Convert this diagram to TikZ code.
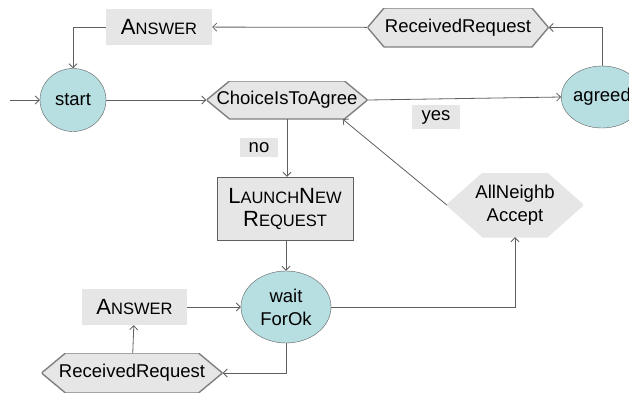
\documentclass[tikz,border=0pt]{standalone}
\usepackage{fontspec}
\setmainfont{Liberation Sans}
\usepackage{tikz}
\usetikzlibrary{shapes.geometric,arrows.meta}

\definecolor{boxgray}{HTML}{E6E6E6}
\definecolor{stategreen}{HTML}{B7DEE1}
\definecolor{linegray}{HTML}{5F5F5F}

% fake small capitals
\newcommand{\fakesc}[2]{{\fontsize{22}{24}\selectfont #1}{\fontsize{16.5}{24}\selectfont #2}}

\tikzset{
  state/.style={ellipse, draw=linegray, fill=stategreen, inner sep=0pt},
  % hexagon with pointed ends: #1 = depth of the points, #2 = border colour
  cond/.style 2 args={rectangle, inner sep=0pt,
    path picture={\filldraw[fill=boxgray, draw=#2, line width=1.4pt]
      (path picture bounding box.west) -- ([xshift=#1]path picture bounding box.north west)
      -- ([xshift=-#1]path picture bounding box.north east) -- (path picture bounding box.east)
      -- ([xshift=-#1]path picture bounding box.south east) -- ([xshift=#1]path picture bounding box.south west) -- cycle;}},
  action/.style={rectangle, fill=boxgray, inner sep=0pt},
  tag/.style={rectangle, fill=boxgray, inner sep=0pt},
  link/.style={-{Straight Barb[length=4pt,width=8pt]}, linegray, line width=0.8pt}
}

\begin{document}
\begin{tikzpicture}[x=1pt, y=-1pt, font=\fontsize{18.5}{23}\selectfont]
  \useasboundingbox (0,0) rectangle (629,392);

  % States
  \node[state, minimum width=66pt, minimum height=63pt] (start) at (73,100) {start};
  \node[state, minimum width=70pt, minimum height=62pt] (agreed) at (602,97) {agreed};
  \node[state, minimum width=90pt, minimum height=72pt, align=center] (wait) at (286,307) {wait\\ForOk};

  % Conditions
  \node[cond={23pt}{gray}, minimum width=161pt, minimum height=38pt] (choice) at (287,100) {ChoiceIsToAgree};
  \node[cond={16.5pt}{gray}, minimum width=181pt, minimum height=39pt] (recvTop) at (458,27.5) {ReceivedRequest};
  \node[cond={24pt}{gray}, minimum width=181pt, minimum height=40pt] (recvBot) at (132,373) {ReceivedRequest};
  \node[cond={36pt}{boxgray}, minimum width=136pt, minimum height=64pt, align=center] (allNeighb) at (515,205) {AllNeighb\\Accept};

  % Actions
  \node[action, minimum width=106pt, minimum height=36pt] (answerTop) at (159,27) {\fakesc{A}{NSWER}};
  \node[action, minimum width=105pt, minimum height=36pt] (answerBot) at (134.5,307) {\fakesc{A}{NSWER}};
  \node[action, draw=linegray, minimum width=136pt, minimum height=63pt, align=center] (launch) at (285,208.5) {\fakesc{L}{AUNCH}\fakesc{N}{EW}\\\fakesc{R}{EQUEST}};

  % Labels
  \node[tag, minimum width=38pt, minimum height=19pt] (noTag) at (259,147.5) {no};
  \node[tag, minimum width=48pt, minimum height=24pt] (yesTag) at (436,117) {yes};

  \coordinate (entry) at (10,100);

  % Transitions
  \draw[link] (entry) -- (start);
  \draw[link] (start) -- (choice);
  \draw[link] (choice.east) -- (agreed.west);
  \draw[link] (agreed.north) |- (recvTop.east);
  \draw[link] (recvTop) -- (answerTop);
  \draw[link] (answerTop.west) -| (start.north);
  \draw[link] (choice.south) -- (choice.south |- launch.north);
  \draw[link] (launch.south -| wait.north) -- (wait.north);
  \draw[link] (answerBot) -- (wait);
  \draw[link] (wait.south) |- (recvBot.east);
  \draw[link] (recvBot) -- (answerBot);
  \draw[link] (wait.east) -| (allNeighb.south);
  \draw[link] (allNeighb.west) -- (choice.-19);
\end{tikzpicture}
\end{document}
